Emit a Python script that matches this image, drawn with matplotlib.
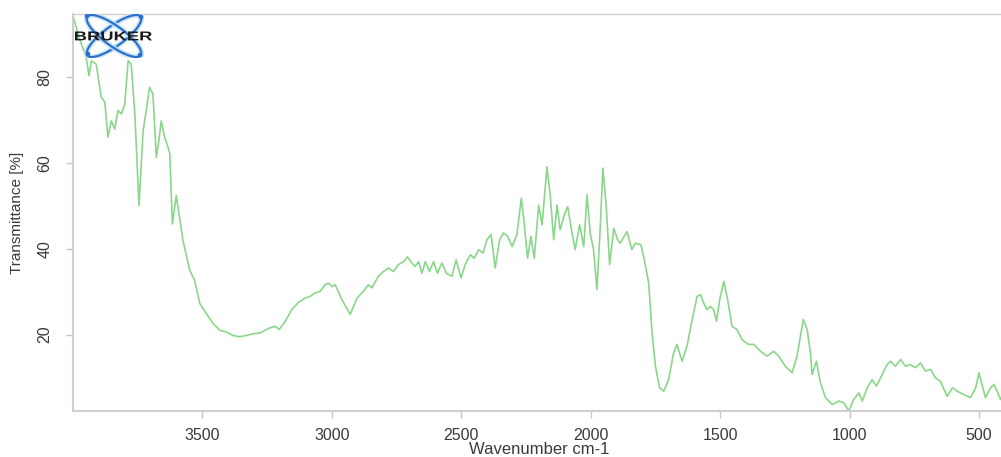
import matplotlib
matplotlib.use("Agg")
import matplotlib.pyplot as plt
from matplotlib.patches import Ellipse, PathPatch, Circle
from matplotlib.textpath import TextPath
from matplotlib.font_manager import FontProperties
from matplotlib.transforms import Affine2D

plt.rcParams['font.family'] = ['Liberation Sans', 'DejaVu Sans']

# ========== Data ==========
wavenumber = [4000, 3973, 3949, 3938, 3929, 3910, 3891, 3877, 3865, 3852,
              3839, 3826, 3813, 3800, 3787, 3775, 3761, 3745, 3729, 3717,
              3704, 3691, 3678, 3668, 3659, 3646, 3633, 3626, 3616, 3601,
              3575, 3549, 3530, 3510, 3485, 3459, 3433, 3407, 3382, 3356,
              3330, 3304, 3277, 3238, 3219, 3203, 3180, 3155, 3129, 3103,
              3084, 3065, 3045, 3026, 3013, 3000, 2987, 2961, 2929, 2903,
              2878, 2859, 2845, 2820, 2801, 2781, 2762, 2743, 2723, 2708,
              2691, 2678, 2665, 2652, 2639, 2623, 2607, 2592, 2575, 2558,
              2536, 2520, 2501, 2485, 2465, 2450, 2433, 2416, 2401, 2385,
              2369, 2352, 2337, 2321, 2304, 2285, 2268, 2257, 2244, 2231,
              2218, 2201, 2188, 2169, 2156, 2143, 2130, 2118, 2102, 2089,
              2072, 2060, 2043, 2027, 2014, 2002, 1989, 1976, 1963, 1953,
              1940, 1927, 1911, 1896, 1886, 1860, 1841, 1828, 1806, 1793,
              1776, 1763, 1750, 1734, 1718, 1699, 1680, 1667, 1647, 1628,
              1608, 1589, 1576, 1564, 1551, 1538, 1525, 1514, 1502, 1486,
              1471, 1454, 1435, 1415, 1390, 1370, 1344, 1319, 1293, 1274,
              1248, 1222, 1203, 1179, 1164, 1151, 1145, 1128, 1113, 1093,
              1067, 1042, 1022, 1003, 984, 964, 951, 932, 913, 896,
              874, 855, 842, 823, 803, 784, 765, 745, 726, 707,
              687, 668, 649, 623, 603, 584, 558, 533, 513, 500,
              487, 475, 455, 443, 430, 417, 400]

transmittance = [94.2, 88.6, 84.6, 80.3, 83.8, 83.0, 75.3, 74.2, 66.0, 69.8,
                 67.9, 72.2, 71.4, 73.7, 83.8, 83.0, 71.4, 50.1, 67.5, 72.2,
                 77.6, 76.0, 61.3, 65.2, 69.8, 66.0, 63.7, 62.1, 45.8, 52.4,
                 41.9, 35.0, 32.6, 27.2, 24.9, 22.6, 21.0, 20.6, 19.8, 19.5,
                 19.8, 20.2, 20.4, 21.6, 21.9, 21.2, 23.1, 25.8, 27.5, 28.5,
                 28.9, 29.7, 30.1, 31.6, 32.0, 31.2, 31.6, 28.1, 24.7, 28.5,
                 30.1, 31.6, 30.9, 33.6, 34.7, 35.5, 34.7, 36.3, 37.0, 38.1,
                 36.7, 35.9, 37.0, 34.3, 37.0, 34.7, 37.0, 34.3, 36.7, 34.3,
                 33.6, 37.4, 33.2, 36.3, 38.6, 37.8, 39.8, 39.0, 42.1, 43.3,
                 35.5, 42.1, 43.7, 42.9, 40.5, 43.3, 51.8, 46.0, 37.8, 42.9,
                 37.8, 50.2, 45.6, 59.1, 52.2, 42.1, 50.2, 44.4, 47.9, 49.8,
                 43.6, 39.8, 45.6, 40.5, 52.6, 43.6, 39.8, 30.5, 45.2, 58.8,
                 49.8, 36.3, 44.8, 42.1, 41.3, 44.0, 39.8, 41.3, 40.9, 37.4,
                 32.0, 20.4, 12.6, 7.6, 6.8, 9.5, 15.7, 17.7, 13.8, 17.3,
                 23.5, 28.9, 29.3, 27.4, 25.8, 26.6, 25.8, 23.1, 28.1, 32.4,
                 28.1, 21.9, 21.2, 18.8, 17.7, 17.7, 16.1, 15.0, 16.1, 15.0,
                 12.6, 11.1, 15.0, 23.5, 21.2, 15.7, 10.7, 13.8, 8.8, 5.3,
                 3.7, 4.5, 4.1, 2.2, 4.9, 6.4, 4.5, 7.6, 9.5, 8.0,
                 10.7, 13.0, 13.8, 12.6, 14.2, 12.6, 13.0, 12.3, 13.4, 11.5,
                 11.9, 9.9, 9.1, 5.6, 7.6, 6.8, 6.0, 5.3, 7.6, 11.1,
                 8.0, 5.3, 7.6, 8.4, 6.8, 4.9, 7.0]

x_ticks = [3500, 3000, 2500, 2000, 1500, 1000, 500]
y_ticks = [20, 40, 60, 80]

# ========== Figure ==========
fig = plt.figure(figsize=(10.01, 4.57), dpi=100)
ax = fig.add_axes([0.0729, 0.1007, 0.931, 0.8687])

ax.plot(wavenumber, transmittance, color='#8ad68a', linewidth=1.2)

ax.set_xlim(4000, 400)
ax.set_ylim(2.2, 94.7)
ax.set_xticks(x_ticks)
ax.set_yticks(y_ticks)

for side in ['left', 'bottom', 'top', 'right']:
    ax.spines[side].set_color('#cfcfcf')
    ax.spines[side].set_linewidth(1.5)
ax.spines['top'].set_linewidth(1.0)

ax.tick_params(axis='both', direction='out', length=5, width=1,
               color='#c8c8c8', labelcolor='#3a3a3a', labelsize=11.5)
ax.tick_params(axis='x', pad=7)
ax.tick_params(axis='y', pad=10)
for lbl in ax.get_yticklabels():
    lbl.set_rotation(90)
    lbl.set_va('center')

ax.set_xlabel('Wavenumber cm-1', fontsize=12, color='#3a3a3a', va='center')
ax.xaxis.set_label_coords(0.5, -0.098)
ax.set_ylabel('Transmittance [%]', fontsize=11, color='#3a3a3a', va='center')
ax.yaxis.set_label_coords(-0.060, 0.5)

# ========== Bruker logo ==========
logo = fig.add_axes([74 / 1001, (457 - 58) / 457, 80 / 1001, 44 / 457])
logo.set_xlim(0, 80)
logo.set_ylim(0, 44)
logo.axis('off')
logo.patch.set_alpha(0)

for ang in (36, -36):
    logo.add_patch(Ellipse((40, 22), 66, 20, angle=ang, fill=False,
                           edgecolor='#bfe3f5', linewidth=4, alpha=0.8))
    logo.add_patch(Ellipse((40, 22), 66, 20, angle=ang, fill=False,
                           edgecolor='#2f6fcc', linewidth=1.6))
for cx, cy in [(13, 42), (66, 3), (14, 4), (67, 41)]:
    logo.add_patch(Circle((cx, cy), 1.6, color='#2f6fcc'))

tp = TextPath((0, 0), 'BRUKER', size=1,
              prop=FontProperties(family='Liberation Sans', weight='bold'))
bb = tp.get_extents()
tr = Affine2D().translate(-bb.x0, -bb.y0).scale(77 / bb.width, 9 / bb.height).translate(1, 17.5)
logo.add_patch(PathPatch(tp, transform=tr + logo.transData,
                         facecolor='#1a1a1a', edgecolor='none'))

plt.savefig('out.png', dpi=100)
plt.close()
